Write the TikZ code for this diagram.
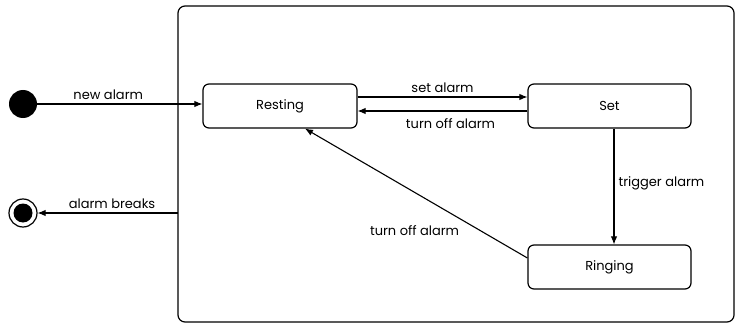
\documentclass[tikz,border=0pt]{standalone}
\usepackage{fontspec}
\setmainfont{Poppins}
\usetikzlibrary{arrows.meta}
\begin{document}
\begin{tikzpicture}[x=1pt,y=-1pt,
  every node/.style={font=\fontsize{13}{15}\selectfont},
  state/.style={draw,line width=1.2pt,rounded corners=6pt,minimum width=155pt,minimum height=44pt,inner sep=0pt},
  conn/.style={line width=1.1pt,-{Latex[length=8pt,width=6.5pt]}},
  lbl/.style={inner sep=1pt}]
\useasboundingbox (0,0) rectangle (735,326);
\draw[line width=1.2pt,rounded corners=7pt] (178,6) rectangle (734,322);
\node[state,minimum width=154pt] (rest) at (280,106) {Resting};
\node[state,minimum width=163pt] (set) at (609.5,106) {Set};
\node[state,minimum width=163pt] (ring) at (609.5,267) {Ringing};
\node[circle,fill,inner sep=0pt,minimum size=28pt] (init) at (23,104) {};
\node[circle,draw,line width=1.2pt,inner sep=0pt,minimum size=28pt] (fin) at (23,213) {};
\node[circle,fill,inner sep=0pt,minimum size=19pt] at (fin) {};
\coordinate (bx) at (178,213);
\draw[conn] (init) -- (rest.west |- init) node[lbl,pos=0.43,anchor=south,yshift=3pt] {new alarm};
\draw[conn] (bx) -- (fin) node[lbl,pos=0.47,anchor=south,yshift=3pt] {alarm breaks};
\draw[conn] ([yshift=9pt]rest.east) -- ([yshift=9pt]set.west) node[lbl,midway,anchor=south,yshift=3pt] {set alarm};
\draw[conn] ([yshift=-5pt]set.west) -- ([yshift=-5pt]rest.east) node[lbl,midway,anchor=north,yshift=-6pt,xshift=8pt] {turn off alarm};
\draw[conn] ([xshift=4.5pt]set.south) -- ([xshift=4.5pt]ring.north) node[lbl,pos=0.47,anchor=west,xshift=3pt] {trigger alarm};
\draw[conn] ([yshift=9pt]ring.west) -- ([xshift=25pt]rest.south) node[lbl,pos=0.3,anchor=north east,yshift=-5pt] {turn off alarm};
\end{tikzpicture}
\end{document}
